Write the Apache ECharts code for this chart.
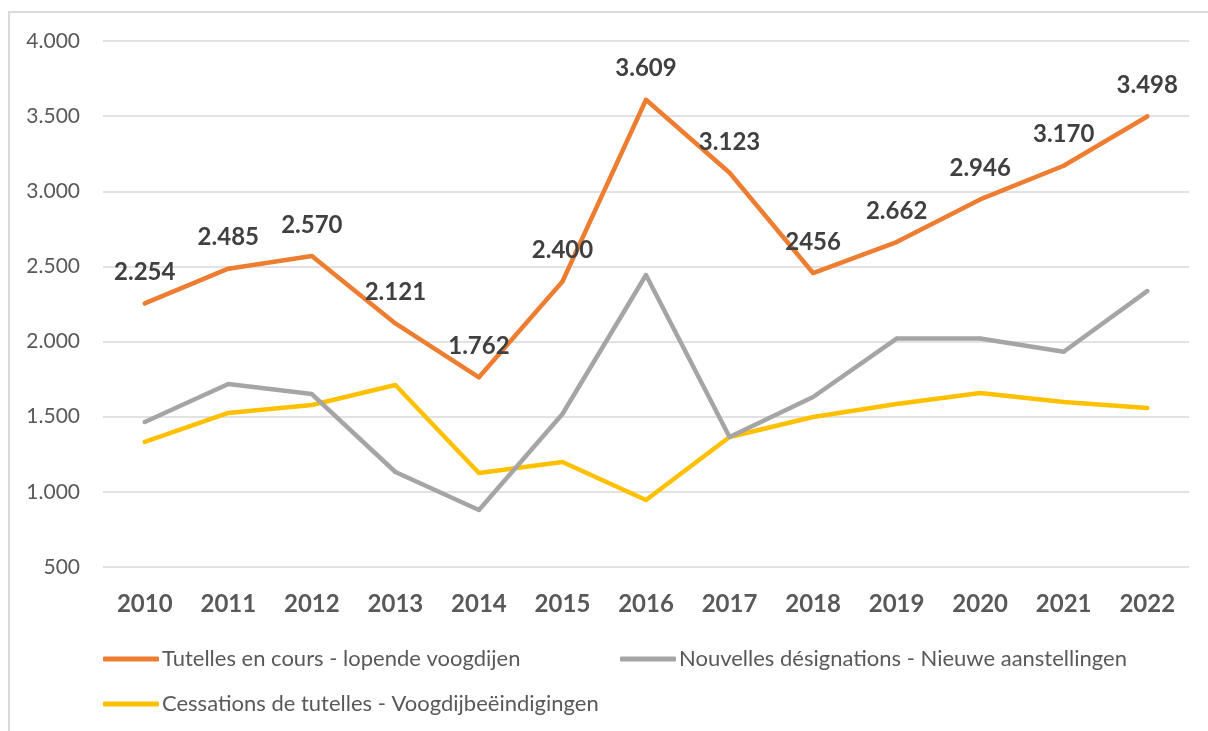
<!DOCTYPE html>
<html>
<head>
<meta charset="utf-8">
<script src="https://cdn.jsdelivr.net/npm/echarts@6/dist/echarts.min.js"></script>
<style>
  html, body { margin: 0; padding: 0; background: #ffffff; }
  #frame {
    position: absolute; left: 8px; top: 11px;
    width: 1220px; height: 740px;
    border: 2px solid #d9d9d9; box-sizing: border-box;
  }
  #chart { position: absolute; left: 0; top: 0; width: 1208px; height: 731px; }
</style>
</head>
<body>
<div id="frame"></div>
<div id="chart"></div>
<script>
// years on the x axis
const years = ['2010', '2011', '2012', '2013', '2014', '2015', '2016', '2017', '2018', '2019', '2020', '2021', '2022'];

// series values
const lopende = [2254, 2485, 2570, 2121, 1762, 2400, 3609, 3123, 2456, 2662, 2946, 3170, 3498];
const nieuwe = [1465, 1718, 1651, 1132, 879, 1518, 2443, 1365, 1631, 2020, 2020, 1932, 2336];
const beeindigd = [1332, 1525, 1578, 1711, 1125, 1199, 946, 1365, 1498, 1584, 1658, 1598, 1558];

// data labels as printed (2018 has no thousands dot in the source)
const lopendeLabels = ['2.254', '2.485', '2.570', '2.121', '1.762', '2.400', '3.609', '3.123', '2456', '2.662', '2.946', '3.170', '3.498'];

const seriesNames = [
  'Tutelles en cours - lopende voogdijen',
  'Nouvelles désignations - Nieuwe aanstellingen',
  'Cessations de tutelles - Voogdijbeëindigingen'
];
const colors = ['#ED7D31', '#A5A5A5', '#FFC000'];

const yTicks = [500, 1000, 1500, 2000, 2500, 3000, 3500, 4000];

const font = 'Lato, "Open Sans", sans-serif';

function fmtThousands(v) {
  return String(v).replace(/\B(?=(\d{3})+(?!\d))/g, '.');
}

function lineSeries(name, data, color, z) {
  return {
    name: name,
    type: 'line',
    data: data,
    z: z,
    symbol: 'circle',
    symbolSize: 4,
    showSymbol: true,
    itemStyle: { color: color },
    lineStyle: { color: color, width: 4.5, cap: 'round', join: 'round' },
    emphasis: { disabled: true },
    animation: false
  };
}

function legendAt(name, left, top) {
  return {
    data: [name],
    left: left,
    top: top,
    icon: 'roundRect',
    itemWidth: 56,
    itemHeight: 5,
    itemGap: 0,
    selectedMode: false,
    padding: 0,
    textStyle: { fontFamily: font, fontSize: 22, color: '#595959', padding: [0, 0, 0, -2] }
  };
}

const chart = echarts.init(document.getElementById('chart'), null, { renderer: 'canvas' });

const orange = lineSeries(seriesNames[0], lopende, colors[0], 4);
orange.label = {
  show: true,
  position: 'top',
  distance: 17,
  fontFamily: font,
  fontSize: 24,
  fontWeight: 'bold',
  color: '#404040',
  formatter: function (p) { return lopendeLabels[p.dataIndex]; }
};

chart.setOption({
  backgroundColor: 'transparent',
  animation: false,
  grid: { left: 103, right: 19, top: 41, bottom: 164, containLabel: false },
  legend: [
    legendAt(seriesNames[0], 103, 648),
    legendAt(seriesNames[1], 620, 648),
    legendAt(seriesNames[2], 103, 693)
  ],
  xAxis: {
    type: 'category',
    data: years,
    boundaryGap: true,
    axisLine: { show: false },
    axisTick: { show: false },
    axisLabel: {
      margin: 25,
      fontFamily: font,
      fontSize: 24,
      fontWeight: 'bold',
      color: '#595959'
    }
  },
  yAxis: {
    type: 'value',
    min: yTicks[0],
    max: yTicks[yTicks.length - 1],
    interval: 500,
    axisLine: { show: false },
    axisTick: { show: false },
    splitLine: { lineStyle: { color: '#D9D9D9', width: 1.5 } },
    axisLabel: {
      margin: 23,
      fontFamily: font,
      fontSize: 21,
      color: '#595959',
      formatter: fmtThousands
    }
  },
  series: [
    orange,
    lineSeries(seriesNames[1], nieuwe, colors[1], 3),
    lineSeries(seriesNames[2], beeindigd, colors[2], 2)
  ]
});
</script>
</body>
</html>
